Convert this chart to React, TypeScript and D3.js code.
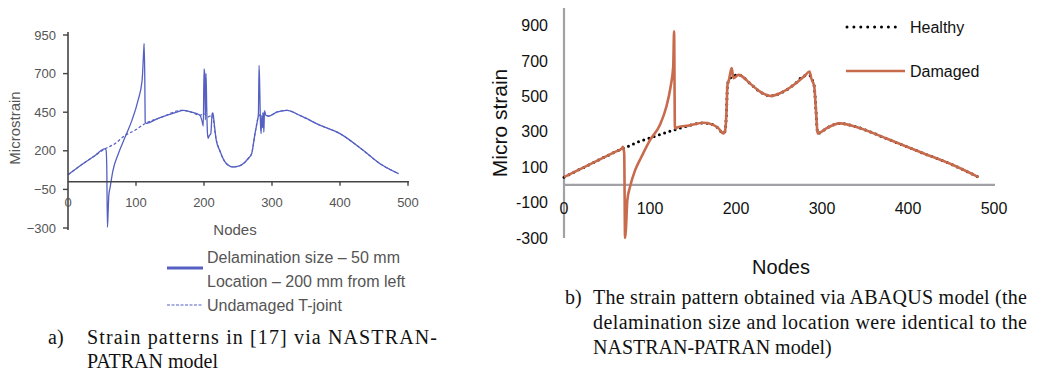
import React from 'react';
import * as d3 from 'd3';

// (a) NASTRAN-PATRAN panel
const leftXTicks = [0, 100, 200, 300, 400, 500];
const leftYTicks = [950, 700, 450, 200, -50, -300];
const leftYLabels = ['950', '700', '450', '200', '\u221250', '\u2212300'];

const leftDamagedNodes = [0, 20, 40, 54, 56, 57, 58, 59, 60, 62, 66, 74, 84, 94, 103, 109, 111.5, 112, 113, 113.5, 116, 130, 145, 160, 170, 180, 194, 197, 199, 200, 201, 202, 203, 204, 205, 206, 208, 210, 212, 213, 214, 215, 218, 223, 233, 243, 252, 258, 265, 270, 275, 278, 280, 281, 282, 283, 284, 285, 286, 287, 288, 289, 291, 295, 307, 322, 341, 371, 400, 434, 459, 486];
const leftDamagedStrain = [45, 110, 170, 212, 205, 100, -295, -200, -90, -35, 70, 181, 289, 397, 527, 656, 860, 894, 640, 386, 378, 405, 430, 451, 462, 452, 430, 395, 360, 730, 700, 400, 700, 480, 320, 280, 300, 310, 440, 445, 420, 380, 270, 203, 116, 95, 102, 117, 150, 181, 311, 380, 440, 753, 600, 380, 311, 430, 350, 450, 320, 460, 430, 425, 451, 462, 429, 365, 311, 203, 116, 52];

const leftHealthyNodes = [0, 20, 40, 54, 69, 84, 98, 113, 138, 167, 180, 194, 200, 206, 212, 218, 223, 233, 243, 252, 258, 265, 270, 275, 280, 285, 291, 295, 307, 322, 341, 371, 400, 434, 459, 486];
const leftHealthyStrain = [45, 110, 170, 212, 246, 300, 332, 375, 418, 462, 452, 430, 440, 420, 430, 270, 203, 116, 95, 102, 117, 150, 181, 311, 420, 440, 432, 425, 451, 462, 429, 365, 311, 203, 116, 52];

// (b) ABAQUS panel
const rightXTicks = [0, 100, 200, 300, 400, 500];
const rightYTicks = [900, 700, 500, 300, 100, -100, -300];

const rightHealthyNodes = [0, 20, 40, 60, 67, 75, 86, 100, 115, 133, 145, 162, 174, 180, 185, 187, 189, 190, 192, 196, 203, 216, 228, 240, 251, 267, 280, 286, 289, 291, 293, 295, 298, 305, 321, 340, 375, 414, 453, 482];
const rightHealthyStrain = [44, 92, 140, 188, 203, 219, 243, 266, 290, 318, 335, 351, 338, 318, 291, 300, 420, 560, 598, 612, 622, 575, 527, 503, 518, 565, 617, 618, 590, 556, 420, 291, 296, 319, 348, 328, 262, 186, 111, 44];

const rightDamagedNodes = [0, 20, 40, 60, 67, 68.5, 70, 71, 72, 73.6, 76.7, 82.6, 90, 100, 111.6, 119, 124, 127, 128, 129, 133, 145, 162, 174, 180, 185, 187, 189, 190, 192, 195, 197, 203, 216, 228, 240, 251, 267, 280, 285.5, 287.5, 291, 293, 295, 298, 305, 321, 340, 375, 414, 453, 482];
const rightDamagedStrain = [44, 92, 140, 188, 205, 215, 180, -300, -250, -88, -12, 82, 158, 253, 340, 442, 556, 669, 868, 319, 328, 335, 351, 338, 318, 291, 300, 420, 560, 598, 660, 603, 622, 575, 527, 503, 518, 565, 617, 641, 603, 556, 420, 291, 296, 319, 348, 328, 262, 186, 111, 44];

const W = 1039;
const H = 373;
const sans = 'Liberation Sans, Arial, sans-serif';
const serif = 'Liberation Serif, Times New Roman, serif';
const blue = '#5560c2';
const rust = '#c86a4c';

function pairs(xs: number[], ys: number[]): [number, number][] {
  return xs.map((x, i) => [x, ys[i]]);
}

export default function App() {
  const xL = d3.scaleLinear().domain([0, 500]).range([68, 408]);
  const yL = d3.scaleLinear().domain([-300, 950]).range([228, 35]);
  const xR = d3.scaleLinear().domain([0, 500]).range([564, 994]);
  const yR = d3.scaleLinear().domain([-300, 1000]).range([238, 8]);

  const lineL = d3.line<[number, number]>()
    .x(d => xL(d[0]))
    .y(d => yL(d[1]))
    .curve(d3.curveMonotoneX);
  const lineR = d3.line<[number, number]>()
    .x(d => xR(d[0]))
    .y(d => yR(d[1]))
    .curve(d3.curveMonotoneX);

  const grey = '#555';

  return (
    <div style={{ position: 'absolute', left: 0, top: 0 }}>
      <svg width={W} height={H} style={{ display: 'block', background: '#fff' }}>
        <defs>
          <clipPath id="leftClip">
            <rect x={0} y={0} width={419} height={H} />
          </clipPath>
        </defs>

        {/* ---------- panel a ---------- */}
        <g clipPath="url(#leftClip)">
          <path d={lineL(pairs(leftHealthyNodes, leftHealthyStrain)) || ''}
            fill="none" stroke={blue} strokeWidth={1.2} strokeDasharray="3 2" />
          <path d={lineL(pairs(leftDamagedNodes, leftDamagedStrain)) || ''}
            fill="none" stroke={blue} strokeWidth={1.3} />

          <line x1={xL(0)} x2={xL(0)} y1={yL(-300) + 2} y2={yL(950) - 3} stroke="#444" strokeWidth={1.6} />
          <line x1={xL(0)} x2={xL(500) + 1} y1={yL(0)} y2={yL(0)} stroke="#444" strokeWidth={1.6} />
          {leftYTicks.map(t => (
            <line key={'lyt' + t} x1={xL(0) - 5} x2={xL(0)} y1={yL(t)} y2={yL(t)} stroke="#444" strokeWidth={1.4} />
          ))}
          {leftXTicks.slice(1).map(t => (
            <line key={'lxt' + t} x1={xL(t)} x2={xL(t)} y1={yL(0)} y2={yL(0) + 4} stroke="#444" strokeWidth={1.4} />
          ))}
          {leftYTicks.map((t, i) => (
            <text key={'lyl' + t} x={xL(0) - 12} y={yL(t)} dy="0.35em" textAnchor="end"
              fontFamily={sans} fontSize={13} fill={grey}>{leftYLabels[i]}</text>
          ))}
          {leftXTicks.map(t => (
            <text key={'lxl' + t} x={xL(t)} y={202} dy="0.35em" textAnchor="middle"
              fontFamily={sans} fontSize={13} fill={grey}>{t}</text>
          ))}
          <text x={235} y={230} dy="0.35em" textAnchor="middle" fontFamily={sans} fontSize={15} fill={grey}>Nodes</text>
          <text transform="translate(15,128) rotate(-90)" dy="0.35em" textAnchor="middle"
            fontFamily={sans} fontSize={15} fill={grey}>Microstrain</text>

          <line x1={167} x2={203} y1={268} y2={268} stroke={blue} strokeWidth={3} />
          <text x={207} y={257} dy="0.35em" fontFamily={sans} fontSize={16} fill={grey}>Delamination size – 50 mm</text>
          <text x={207} y={281} dy="0.35em" fontFamily={sans} fontSize={16} fill={grey}>Location – 200 mm from left</text>
          <line x1={167} x2={203} y1={305} y2={305} stroke={blue} strokeWidth={1.2} strokeDasharray="3 1.5" />
          <text x={207} y={305} dy="0.35em" fontFamily={sans} fontSize={16} fill={grey}>Undamaged T-joint</text>
        </g>

        <text x={48} y={337} dy="0.35em" fontFamily={serif} fontSize={20} fill="#111">a)</text>
        <text x={87} y={337} dy="0.35em" fontFamily={serif} fontSize={20} fill="#111"
          textLength={350} lengthAdjust="spacing">Strain patterns in [17] via NASTRAN-</text>
        <text x={87} y={361} dy="0.35em" fontFamily={serif} fontSize={20} fill="#111">PATRAN model</text>

        {/* ---------- panel b ---------- */}
        <line x1={xR(0)} x2={xR(0)} y1={yR(1000)} y2={yR(-300)} stroke="#a2a2a6" strokeWidth={2.2} />
        <line x1={xR(0)} x2={xR(500) + 1} y1={yR(0)} y2={yR(0)} stroke="#a2a2a6" strokeWidth={2.2} />

        <path d={lineR(pairs(rightHealthyNodes, rightHealthyStrain)) || ''}
          fill="none" stroke="#000" strokeWidth={3} strokeDasharray="0 5.5" strokeLinecap="round" />
        <path d={lineR(pairs(rightDamagedNodes, rightDamagedStrain)) || ''}
          fill="none" stroke={rust} strokeWidth={2.6} strokeLinejoin="round" />

        {rightYTicks.map(t => (
          <text key={'ryl' + t} x={548} y={yR(t)} dy="0.35em" textAnchor="end"
            fontFamily={sans} fontSize={16} fill="#111">{t}</text>
        ))}
        {rightXTicks.map(t => (
          <text key={'rxl' + t} x={xR(t)} y={208} dy="0.35em" textAnchor="middle"
            fontFamily={sans} fontSize={16} fill="#111">{t}</text>
        ))}
        <text x={781} y={267} dy="0.35em" textAnchor="middle" fontFamily={sans} fontSize={20} fill="#111">Nodes</text>
        <text transform="translate(500,123) rotate(-90)" dy="0.35em" textAnchor="middle"
          fontFamily={sans} fontSize={21} fill="#111">Micro strain</text>

        <line x1={847} x2={902} y1={27} y2={27} stroke="#000" strokeWidth={3} strokeDasharray="0 6.9" strokeLinecap="round" />
        <text x={910} y={27} dy="0.35em" fontFamily={sans} fontSize={16} fill="#111">Healthy</text>
        <line x1={846} x2={905} y1={71} y2={71} stroke={rust} strokeWidth={2.6} />
        <text x={910} y={71} dy="0.35em" fontFamily={sans} fontSize={16} fill="#111">Damaged</text>

        <text x={565} y={297} dy="0.35em" fontFamily={serif} fontSize={20} fill="#111">b)</text>
        <text x={593} y={297} dy="0.35em" fontFamily={serif} fontSize={20} fill="#111"
          textLength={434} lengthAdjust="spacing">The strain pattern obtained via ABAQUS model (the</text>
        <text x={593} y={322} dy="0.35em" fontFamily={serif} fontSize={20} fill="#111"
          textLength={434} lengthAdjust="spacing">delamination size and location were identical to the</text>
        <text x={593} y={347} dy="0.35em" fontFamily={serif} fontSize={20} fill="#111">NASTRAN-PATRAN model)</text>
      </svg>
    </div>
  );
}
